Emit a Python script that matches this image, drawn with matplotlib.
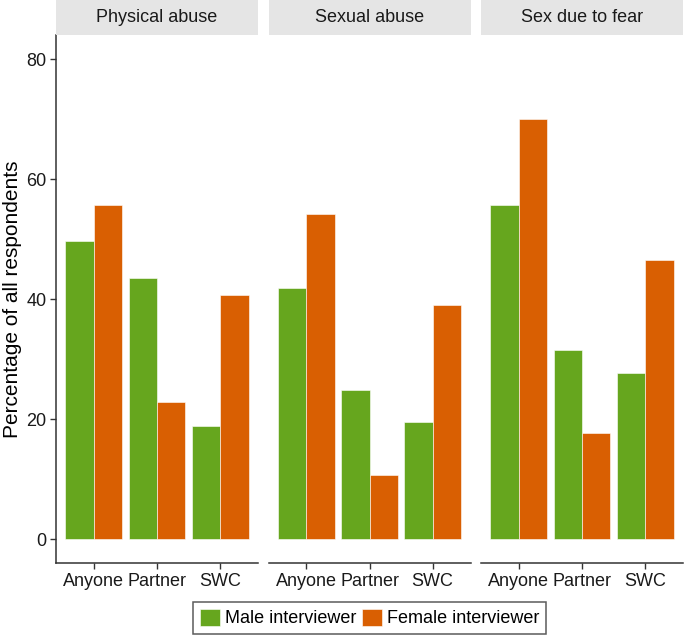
import matplotlib.pyplot as plt
import numpy as np

plt.rcParams['font.family'] = ['Liberation Sans', 'DejaVu Sans']

panels = ["Physical abuse", "Sexual abuse", "Sex due to fear"]
categories = ["Anyone", "Partner", "SWC"]
male = [[49.7, 43.5, 18.8],   # physical abuse
        [41.8, 24.9, 19.5],   # sexual abuse
        [55.7, 31.5, 27.6]]   # sex due to fear
female = [[55.6, 22.9, 40.6],
          [54.1, 10.7, 39.0],
          [70.0, 17.7, 46.5]]
yticks = [0, 20, 40, 60, 80]

green = "#66A61E"
orange = "#D95F02"
dark = "#333333"

W, H = 685, 636
fig = plt.figure(figsize=(W / 100, H / 100), dpi=100)

# panel geometry in pixels
left0, pw, gap = 56, 202, 10.5
top, bottom, strip_h = 35, 563, 35

x = np.arange(len(categories))
bw = 0.45
for i, name in enumerate(panels):
    left = left0 + i * (pw + gap)
    ax = fig.add_axes([left / W, 1 - bottom / H, pw / W, (bottom - top) / H])
    ax.bar(x - bw / 2, male[i], bw, color=green, edgecolor="white", linewidth=0.4,
           label="Male interviewer")
    ax.bar(x + bw / 2, female[i], bw, color=orange, edgecolor="white", linewidth=0.4,
           label="Female interviewer")
    ax.set_xlim(-0.6, 2.6)
    ax.set_ylim(-4, 84)
    ax.set_xticks(x)
    ax.set_xticklabels(categories, fontsize=13, color="#1a1a1a")
    for s in ["top", "right"]:
        ax.spines[s].set_visible(False)
    ax.spines["bottom"].set_color(dark)
    ax.spines["bottom"].set_linewidth(1.1)
    ax.tick_params(axis="x", length=4, width=1, color=dark, pad=3.5)
    if i == 0:
        ax.set_yticks(yticks)
        ax.set_yticklabels([str(v) for v in yticks], fontsize=13, color="#1a1a1a")
        ax.spines["left"].set_color(dark)
        ax.spines["left"].set_linewidth(1.1)
        ax.tick_params(axis="y", length=4, width=1, color=dark, pad=3)
        ax.set_ylabel("Percentage of all respondents", fontsize=15, color="black", labelpad=3)
        handles, labels = ax.get_legend_handles_labels()
    else:
        ax.spines["left"].set_visible(False)
        ax.set_yticks([])

    # facet strip
    sax = fig.add_axes([left / W, 1 - strip_h / H, pw / W, strip_h / H])
    sax.set_facecolor("#E5E5E5")
    sax.set_xticks([])
    sax.set_yticks([])
    for s in sax.spines.values():
        s.set_visible(False)
    sax.text(0.5, 0.5, name, ha="center", va="center", fontsize=13, color="#1a1a1a",
             transform=sax.transAxes)

leg = fig.legend(handles, labels, loc="center", bbox_to_anchor=(369.5 / W, 1 - 618 / H),
                 ncol=2, fontsize=13, frameon=True, fancybox=False,
                 handlelength=1.1, handleheight=1.1, handletextpad=0.3,
                 columnspacing=0.3, borderpad=0.38, borderaxespad=0)
leg.get_frame().set_edgecolor(dark)
leg.get_frame().set_linewidth(1.1)

fig.savefig("out.png", dpi=100)
